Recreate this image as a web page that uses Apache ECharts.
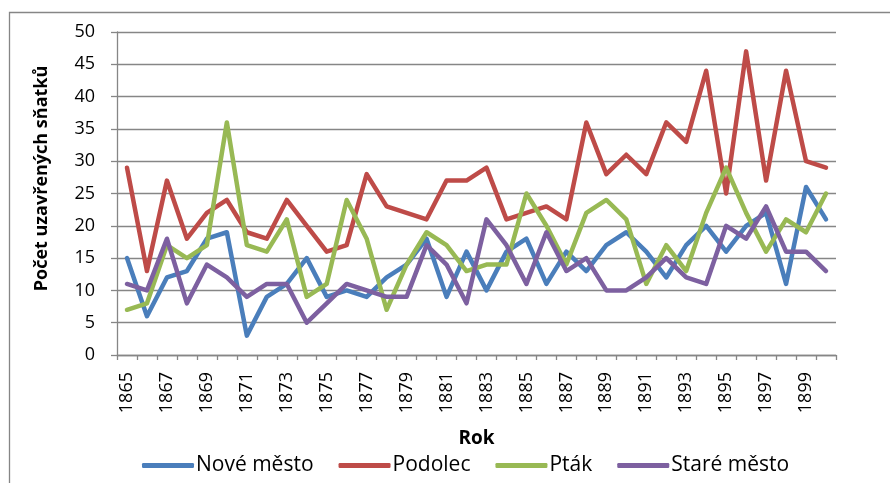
<!DOCTYPE html>
<html>
<head>
<meta charset="utf-8">
<script src="https://cdn.jsdelivr.net/npm/echarts@6/dist/echarts.min.js"></script>
<style>
  html, body { margin: 0; padding: 0; background: #fff; }
  #chart { width: 890px; height: 483px; }
</style>
</head>
<body>
<div id="chart"></div>
<script>
// roky 1865 - 1900
const years = ['1865','1866','1867','1868','1869','1870','1871','1872','1873','1874','1875','1876',
  '1877','1878','1879','1880','1881','1882','1883','1884','1885','1886','1887','1888',
  '1889','1890','1891','1892','1893','1894','1895','1896','1897','1898','1899','1900']

const noveMesto = [15,6,12,13,18,19,3,9,11,15,9,10,9,12,14,18,9,16,10,16,18,11,16,13,17,19,16,12,17,20,16,20,22,11,26,21]
const podolec = [29,13,27,18,22,24,19,18,24,20,16,17,28,23,22,21,27,27,29,21,22,23,21,36,28,31,28,36,33,44,25,47,27,44,30,29]
const ptak = [7,8,17,15,17,36,17,16,21,9,11,24,18,7,14,19,17,13,14,14,25,20,14,22,24,21,11,17,13,22,29,22,16,21,19,25]
const stareMesto = [11,10,18,8,14,12,9,11,11,5,8,11,10,9,9,17,14,8,21,17,11,19,13,15,10,10,12,15,12,11,20,18,23,16,16,13]

const seriesNames = ['Nové město', 'Podolec', 'Pták', 'Staré město']
const colors = ['#4a7ebb', '#be4b48', '#98b954', '#7d60a0']

const font = 'Open Sans'
const gray = '#868686'

function lineSeries (name, data, i) {
  return {
    name: name,
    type: 'line',
    data: data,
    symbol: 'none',
    animation: false,
    lineStyle: { width: 4.5, color: colors[i], cap: 'round', join: 'round' },
    itemStyle: { color: colors[i] }
  }
}

const chart = echarts.init(document.getElementById('chart'))
chart.setOption({
  animation: false,
  textStyle: { fontFamily: font },
  graphic: [{
    type: 'rect',
    shape: { x: 9.5, y: 12.5, width: 900, height: 500 },
    style: { fill: 'none', stroke: gray, lineWidth: 1.3 },
    silent: true
  }],
  grid: { left: 117, right: 54, top: 32, bottom: 128 },
  legend: {
    data: seriesNames,
    bottom: 2,
    left: 137,
    itemWidth: 52,
    itemHeight: 5,
    itemGap: 25,
    icon: 'roundRect',
    textStyle: { fontFamily: font, fontSize: 21, color: '#000', padding: [0, 0, 0, -3] }
  },
  xAxis: {
    type: 'category',
    data: years,
    boundaryGap: true,
    name: 'Rok',
    nameLocation: 'middle',
    nameGap: 74,
    nameTextStyle: { fontFamily: font, fontSize: 19, fontWeight: 'bold', color: '#000' },
    axisLine: { lineStyle: { color: gray, width: 1.3 } },
    axisTick: { show: true, alignWithLabel: false, interval: 0, length: 5, lineStyle: { color: gray, width: 1.3 } },
    axisLabel: { interval: 1, rotate: 90, margin: 17, fontSize: 18, color: '#000', fontFamily: font },
    splitLine: { show: false }
  },
  yAxis: {
    type: 'value',
    min: 0,
    max: 50,
    interval: 5,
    name: 'Počet uzavřených sňatků',
    nameLocation: 'middle',
    nameGap: 66,
    nameTextStyle: { fontFamily: font, fontSize: 18, fontWeight: 'bold', color: '#000', padding: [0, 0, 0, 30] },
    axisLine: { show: true, lineStyle: { color: gray, width: 1.3 } },
    axisTick: { show: true, length: 6, lineStyle: { color: gray, width: 1.3 } },
    axisLabel: { margin: 22, fontSize: 18, color: '#000', fontFamily: font },
    splitLine: { show: true, lineStyle: { color: gray, width: 1.3 } }
  },
  series: [
    lineSeries(seriesNames[0], noveMesto, 0),
    lineSeries(seriesNames[1], podolec, 1),
    lineSeries(seriesNames[2], ptak, 2),
    lineSeries(seriesNames[3], stareMesto, 3)
  ]
})
</script>
</body>
</html>
